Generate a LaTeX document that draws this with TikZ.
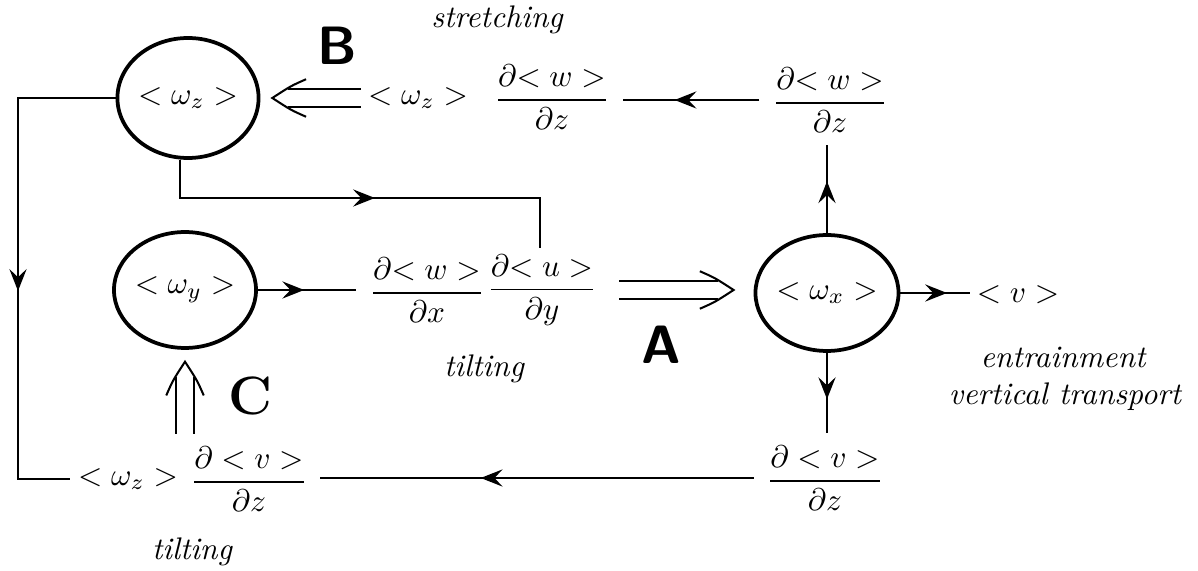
\documentclass[tikz,border=0pt]{standalone}
\usetikzlibrary{arrows.meta,decorations.markings,shapes.geometric,calc}
\newcommand\myfrac[2]{\displaystyle\frac{#1}{#2}}
\begin{document}
\begin{tikzpicture}[x=0.32pt,y=-0.32pt,
  every node/.style={inner sep=0pt},
  circ/.style={draw, ellipse, line width=1.2pt, inner sep=0pt},
  frac/.style={inner sep=4pt},
  lab/.style={font=\itshape},
  bigsans/.style={font=\LARGE\sffamily\bfseries},
  bigserif/.style={font=\LARGE\bfseries},
  conn/.style={line width=0.65pt},
  midarr/.style={conn, postaction={decorate}, decoration={markings, mark=at position #1 with {\arrow{Stealth[length=7pt,width=5.5pt,inset=2.6pt]}}}},
  dblline/.style={double, double distance=5.3pt, line width=0.6pt},
  dblhead/.style={postaction={decorate}, decoration={markings, mark=at position #1 with {%
      \draw[line width=0.65pt, line join=miter] (-10.8pt,6pt) .. controls (-6pt,3.9pt) .. (0pt,0pt)
        .. controls (-6pt,-3.9pt) .. (-10.8pt,-6pt);}}}
]
\useasboundingbox (0,0) rectangle (1198,571);

% circles
\node[circ, minimum width=42.9pt, minimum height=38.4pt] (wz) at (188,98) {$<\omega_z>$};
\node[circ, minimum width=43.5pt, minimum height=37.1pt] (wy) at (185,290) {$<\omega_y>$};
\node[circ, minimum width=44.8pt, minimum height=37.1pt] (wx) at (827,293) {$<\omega_x>$};

% terms
\node (tlw) at (418,98) {$<\omega_z>$};
\node[frac] (tlf) at (552,97) {$\myfrac{\partial{<}\;w>}{\partial z}$};
\node[frac] (tr) at (830,100) {$\myfrac{\partial{<}\;w>}{\partial z}$};
\node[frac] (mf1) at (427,290) {$\myfrac{\partial{<}\;w>}{\partial x}$};
\node[frac] (mf2) at (542,290) {$\myfrac{\partial{<}\;u>}{\partial y}$};
\node[frac] (br) at (825,478) {$\myfrac{\partial<v>}{\partial z}$};
\node[frac] (blf) at (249,479) {$\myfrac{\partial<v>}{\partial z}$};
\node (blw) at (128,479) {$<\omega_z>$};
\node (v) at (1018,295) {$<v>$};

% labels
\node[lab] (stretch) at (497,20) {stretching};
\node[lab] (tilt1) at (484,369) {tilting};
\node[lab] (tilt2) at (192,552) {tilting};
\node[lab] (entr) at (1063,357) {entrainment};
\node[lab] (vert) at (1065,397) {vertical transport};
\node[bigsans] (A) at (661,345) {A};
\node[bigsans] (B) at (337,46) {B};
\node[bigserif] (C) at (250,396) {C};

% connectors
\coordinate (lc) at (18,98);
\draw[midarr=0.54, shorten >=2.5pt] (wz.west) -- (lc) |- (blw.west);
\coordinate (tc) at (540,198);
\draw[midarr=0.52] (wz.263) |- (tc) -- ([yshift=-2pt]tc |- mf2.north);
\draw[midarr=0.47] (wy.east) -- (wy.east -| mf1.west);
\draw[midarr=0.62] (tr.west) -- (tr.west -| tlf.east);
\draw[midarr=0.59] (wx.north) -- (wx.north |- tr.south);
\draw[midarr=0.58] (wx.south) -- (wx.south |- br.north);
\draw[midarr=0.67] (wx.east) -- ([xshift=-2pt]wx.east -| v.west);
\draw[midarr=0.63] (br.west) -- (br.west -| blf.east);

% double arrows
\draw[dblline, shorten <=3pt, shorten >=11.4pt] (mf2.east) -- (mf2.east -| wx.west);
\path[dblhead=-6.4pt] (mf2.east) -- (mf2.east -| wx.west);
\draw[dblline, shorten <=2.2pt, shorten >=8.8pt] (tlw.west) -- (tlw.west -| wz.east);
\path[dblhead=-3.8pt] (tlw.west) -- (tlw.west -| wz.east);
\draw[dblline, shorten >=8.8pt] (wy.south |- blf.north) -- (wy.south);
\path[dblhead=-3.8pt] (wy.south |- blf.north) -- (wy.south);
\end{tikzpicture}
\end{document}
